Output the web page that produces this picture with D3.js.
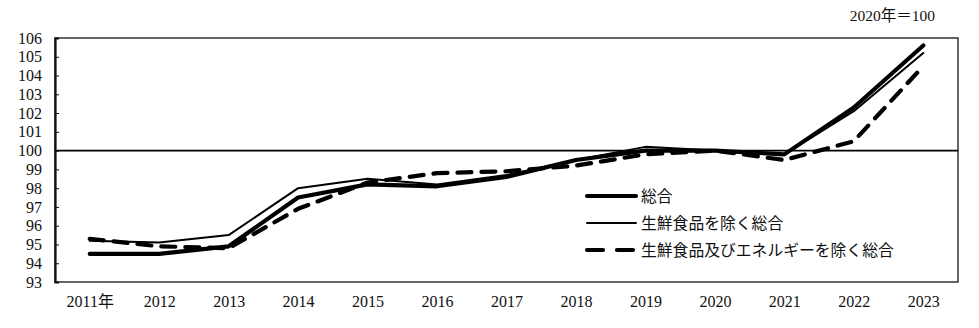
<!DOCTYPE html>
<html>
<head>
<meta charset="utf-8">
<script src="https://cdn.jsdelivr.net/npm/d3@7"></script>
<style>
  html, body { margin: 0; padding: 0; background: #fff; }
</style>
</head>
<body>
<div id="chart"></div>
<script>
// 消費者物価指数（2020年＝100）
const years = ["2011年", "2012", "2013", "2014", "2015", "2016", "2017", "2018", "2019", "2020", "2021", "2022", "2023"];
const sogo      = [94.5, 94.5, 94.9, 97.5, 98.2, 98.1, 98.6, 99.5, 100.0, 100.0, 99.8, 102.3, 105.6];
const exFresh   = [95.2, 95.1, 95.5, 98.0, 98.5, 98.2, 98.7, 99.5, 100.2, 100.0, 99.8, 102.1, 105.2];
const exFreshEn = [95.3, 94.9, 94.8, 96.9, 98.3, 98.8, 98.9, 99.2, 99.8, 100.0, 99.5, 100.5, 104.5];
const yTicks = [93, 94, 95, 96, 97, 98, 99, 100, 101, 102, 103, 104, 105, 106];
const seriesNames = ["総合", "生鮮食品を除く総合", "生鮮食品及びエネルギーを除く総合"];
const unitLabel = "2020年＝100";

const W = 979, H = 328;
const m = { left: 55, top: 38, right: 958, bottom: 282 };
const FONT = '"Liberation Serif", "Noto Sans CJK JP", serif';

const svg = d3.select("#chart").append("svg")
  .attr("width", W).attr("height", H);

const x = d3.scalePoint().domain(years).range([m.left, m.right]).padding(0.5);
const y = d3.scaleLinear().domain([93, 106]).range([m.bottom, m.top]);

// frame
svg.append("rect")
  .attr("x", m.left).attr("y", m.top)
  .attr("width", m.right - m.left).attr("height", m.bottom - m.top)
  .attr("fill", "none").attr("stroke", "#111").attr("stroke-width", 1.3);

// y axis with inward ticks
const yAxis = d3.axisLeft(y).tickValues(yTicks).tickSize(-4).tickPadding(13).tickFormat(d3.format("d"));
const gy = svg.append("g").attr("transform", `translate(${m.left},0)`).call(yAxis);
gy.select(".domain").attr("stroke", "#111").attr("stroke-width", 2.2);
gy.selectAll(".tick line").attr("stroke", "#111");
gy.selectAll(".tick text")
  .style("font-family", FONT).style("font-size", "16px").style("fill", "#111");

// x axis labels
const xAxis = d3.axisBottom(x).tickSize(0).tickPadding(14);
const gx = svg.append("g").attr("transform", `translate(0,${m.bottom})`).call(xAxis);
gx.select(".domain").remove();
gx.selectAll(".tick text")
  .style("font-family", FONT).style("font-size", "16px").style("fill", "#111");

// 100 reference line
svg.append("line")
  .attr("x1", m.left).attr("x2", m.right)
  .attr("y1", y(100)).attr("y2", y(100))
  .attr("stroke", "#000").attr("stroke-width", 1.6);

const line = d3.line().x((d, i) => x(years[i])).y(d => y(d));

const styles = [
  { data: sogo, width: 4.2, dash: null },
  { data: exFresh, width: 2, dash: null },
  { data: exFreshEn, width: 4.2, dash: "14,10" }
];

// dashed first, thin next, thick on top
[styles[2], styles[1], styles[0]].forEach(s => {
  svg.append("path")
    .datum(s.data)
    .attr("d", line)
    .attr("fill", "none")
    .attr("stroke", "#000")
    .attr("stroke-width", s.width)
    .attr("stroke-linejoin", "round")
    .attr("stroke-linecap", "round")
    .attr("stroke-dasharray", s.dash);
});

// legend
const legend = svg.append("g");
const legY = [196, 223, 250];
styles.forEach((s, i) => {
  legend.append("line")
    .attr("x1", 587).attr("x2", 636)
    .attr("y1", legY[i]).attr("y2", legY[i])
    .attr("stroke", "#000")
    .attr("stroke-width", s.width)
    .attr("stroke-linecap", "round")
    .attr("stroke-dasharray", s.dash ? "16,14" : null);
  legend.append("text")
    .attr("x", 641).attr("y", legY[i])
    .attr("dy", "0.35em")
    .style("font-family", FONT).style("font-size", "15.8px").style("fill", "#111")
    .text(seriesNames[i]);
});

// unit label
svg.append("text")
  .attr("x", 935).attr("y", 16).attr("dy", "0.35em")
  .attr("text-anchor", "end")
  .style("font-family", FONT).style("font-size", "15.5px").style("fill", "#111")
  .text(unitLabel);
</script>
</body>
</html>
